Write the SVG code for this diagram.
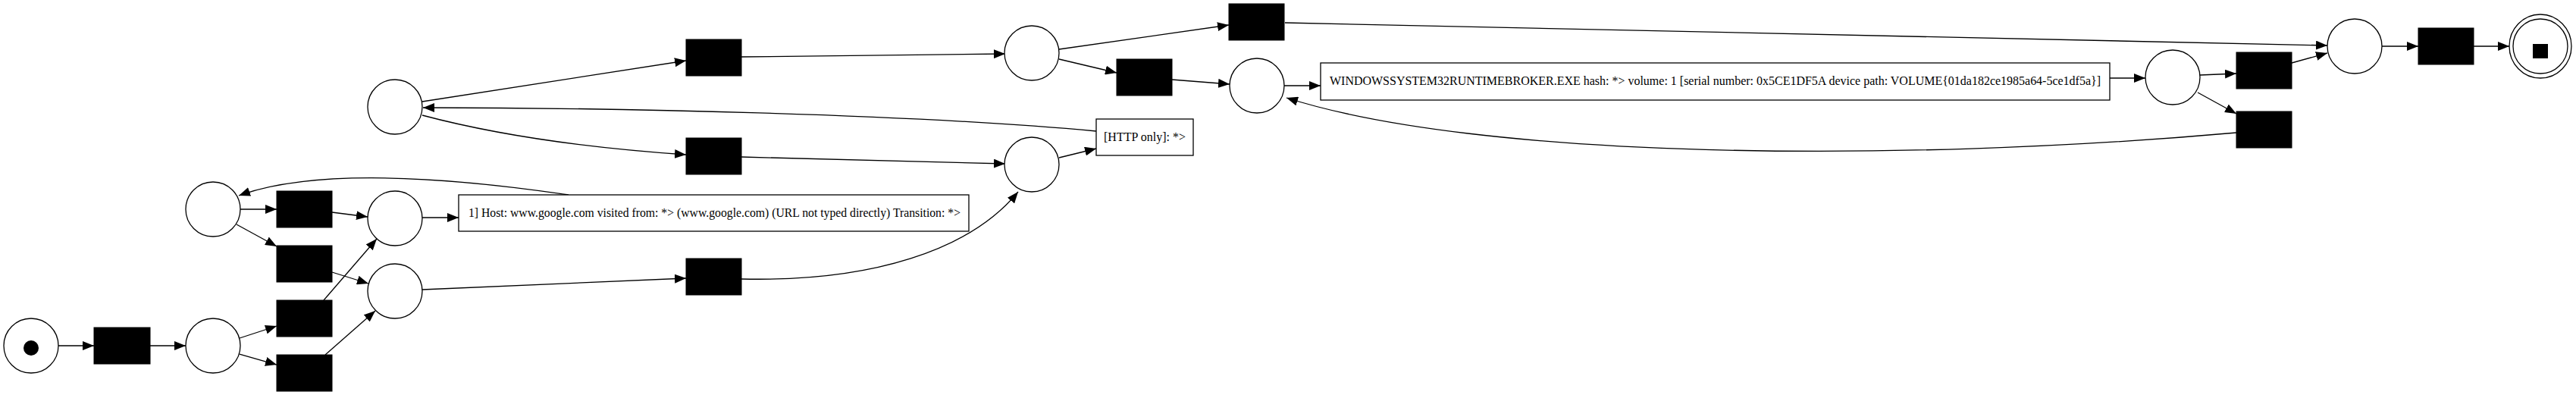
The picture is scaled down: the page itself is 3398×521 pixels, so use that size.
<svg xmlns="http://www.w3.org/2000/svg" width="3398" height="521" viewBox="0 0 3398 521">
<style>
.pl{fill:#fff;stroke:#000;stroke-width:1.3}
.tr{fill:#000;stroke:#000;stroke-width:1}
.bx{fill:#fff;stroke:#000;stroke-width:1.3}
.lb{font-family:"Liberation Serif","Times New Roman",serif;font-size:16px;fill:#000}
.e{fill:none;stroke:#000;stroke-width:1.3;marker-end:url(#ah)}
</style>
<defs>
<marker id="ah" markerUnits="userSpaceOnUse" markerWidth="15" markerHeight="12" refX="15" refY="6" orient="auto">
<path d="M0,0 L15,6 L0,12 z" fill="#000"/>
</marker>
</defs>
<rect width="3398" height="521" fill="#fff"/>
<g id="connectors">
<path class="e" d="M77,456 L124,456"/>
<path class="e" d="M198,456 L245,456"/>
<path class="e" d="M316,446 L365,430"/>
<path class="e" d="M316,467 L365,481"/>
<path class="e" d="M427,396 L497,315"/>
<path class="e" d="M429,468 L495,410"/>
<path class="e" d="M317,276 L365,276"/>
<path class="e" d="M312,296 L365,325"/>
<path class="e" d="M438,280 L485,286"/>
<path class="e" d="M438,359 L486,374"/>
<path class="e" d="M557,287 L605,287"/>
<path class="e" d="M750,257 C600,235 420,220 315,258"/>
<path class="e" d="M557,382 L905,367"/>
<path class="e" d="M557,134 L905,80"/>
<path class="e" d="M557,152 Q700,190 905,204"/>
<path class="e" d="M1446,173 C1200,150 800,142 558,142"/>
<path class="e" d="M978,75 L1326,71"/>
<path class="e" d="M978,207 L1326,216"/>
<path class="e" d="M978,368 C1150,372 1280,330 1343,253"/>
<path class="e" d="M1397,65 L1621,33"/>
<path class="e" d="M1397,78 L1473,96"/>
<path class="e" d="M1397,208 L1446,196"/>
<path class="e" d="M1546,105 L1622,111"/>
<path class="e" d="M1694,113 L1742,113"/>
<path class="e" d="M2783,103 L2830,103"/>
<path class="e" d="M2902,99 L2950,97"/>
<path class="e" d="M2899,122 L2950,150"/>
<path class="e" d="M3023,83 L3070,70"/>
<path class="e" d="M1695,30 C2200,38 2700,50 3070,60"/>
<path class="e" d="M2950,175 C2500,215 1950,210 1697,129"/>
<path class="e" d="M3142,61 L3190,61"/>
<path class="e" d="M3263,61 L3310,61"/>
</g>
<g id="p_start"><circle class="pl" cx="41" cy="456" r="36"/><circle cx="41" cy="459" r="10" fill="#000"/></g>
<g id="t1"><rect class="tr" x="124" y="432" width="74" height="48"/></g>
<g id="p2"><circle class="pl" cx="281" cy="456" r="36"/></g>
<g id="pA"><circle class="pl" cx="281" cy="276" r="36"/></g>
<g id="ta"><rect class="tr" x="365" y="252" width="73" height="48"/></g>
<g id="tb"><rect class="tr" x="365" y="324" width="73" height="48"/></g>
<g id="tc"><rect class="tr" x="365" y="396" width="73" height="48"/></g>
<g id="td"><rect class="tr" x="365" y="468" width="73" height="48"/></g>
<g id="pB"><circle class="pl" cx="521" cy="288" r="36"/></g>
<g id="pC"><circle class="pl" cx="521" cy="384" r="36"/></g>
<g id="pD"><circle class="pl" cx="521" cy="141" r="36"/></g>
<g id="label1"><rect class="bx" x="605" y="257" width="673" height="48"/><text class="lb" x="618" y="286" textLength="649" lengthAdjust="spacingAndGlyphs">1] Host: www.google.com visited from: *&gt; (www.google.com) (URL not typed directly) Transition: *&gt;</text></g>
<g id="tf"><rect class="tr" x="905" y="52" width="73" height="48"/></g>
<g id="te"><rect class="tr" x="905" y="182" width="73" height="48"/></g>
<g id="tl"><rect class="tr" x="905" y="341" width="73" height="48"/></g>
<g id="pE"><circle class="pl" cx="1361" cy="70" r="36"/></g>
<g id="pF"><circle class="pl" cx="1361" cy="217" r="36"/></g>
<g id="http"><rect class="bx" x="1446" y="157" width="128" height="48"/><text class="lb" x="1456" y="186">[HTTP only]: *&gt;</text></g>
<g id="tg"><rect class="tr" x="1473" y="78" width="73" height="48"/></g>
<g id="th"><rect class="tr" x="1621" y="5" width="73" height="48"/></g>
<g id="pG"><circle class="pl" cx="1658" cy="113" r="36"/></g>
<g id="win"><rect class="bx" x="1742" y="83" width="1041" height="49"/><text class="lb" x="1754" y="112" textLength="1017" lengthAdjust="spacingAndGlyphs">WINDOWSSYSTEM32RUNTIMEBROKER.EXE hash: *&gt; volume: 1 [serial number: 0x5CE1DF5A device path: VOLUME{01da182ce1985a64-5ce1df5a}]</text></g>
<g id="pH"><circle class="pl" cx="2866" cy="102" r="36"/></g>
<g id="ti"><rect class="tr" x="2950" y="69" width="73" height="48"/></g>
<g id="tj"><rect class="tr" x="2950" y="147" width="73" height="48"/></g>
<g id="pI"><circle class="pl" cx="3106" cy="61" r="36"/></g>
<g id="tk"><rect class="tr" x="3190" y="37" width="73" height="48"/></g>
<g id="p_end"><ellipse class="pl" cx="3351" cy="61" rx="41" ry="42"/><ellipse class="pl" cx="3351" cy="61" rx="36" ry="36"/><rect x="3341" y="58" width="20" height="19" fill="#000"/></g>
</svg>
